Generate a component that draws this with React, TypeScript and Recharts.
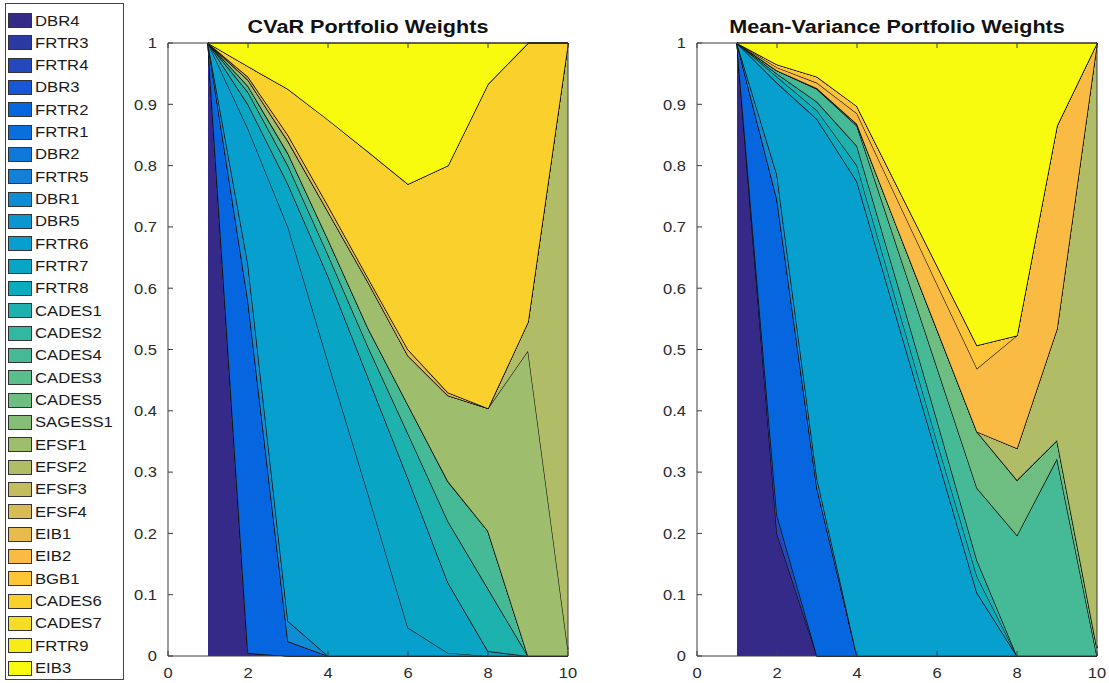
import React from "react";
import { AreaChart, Area, XAxis, YAxis } from "recharts";

// legend order = stacking order (bottom -> top)
const assets = [
  "DBR4", "FRTR3", "FRTR4", "DBR3", "FRTR2", "FRTR1", "DBR2", "FRTR5", "DBR1", "DBR5",
  "FRTR6", "FRTR7", "FRTR8", "CADES1", "CADES2", "CADES4", "CADES3", "CADES5", "SAGESS1", "EFSF1",
  "EFSF2", "EFSF3", "EFSF4", "EIB1", "EIB2", "BGB1", "CADES6", "CADES7", "FRTR9", "EIB3",
];

const portfolios = [1, 2, 3, 4, 5, 6, 7, 8, 9, 10];
const xTicks = [0, 2, 4, 6, 8, 10];
const yTicks = [0, 0.1, 0.2, 0.3, 0.4, 0.5, 0.6, 0.7, 0.8, 0.9, 1];

// CVaR weights (only the assets that get any weight)
const cvarDBR4 = [1, 0.005, 0, 0, 0, 0, 0, 0, 0, 0];
const cvarFRTR2 = [0, 0.575, 0.024, 0, 0, 0, 0, 0, 0, 0];
const cvarDBR1 = [0, 0.06, 0.033, 0, 0, 0, 0, 0, 0, 0];
const cvarFRTR6 = [0, 0.22, 0.643, 0.48, 0.265, 0.046, 0.005, 0, 0, 0];
const cvarFRTR7 = [0, 0.04, 0.07, 0.14, 0.19, 0.244, 0.115, 0.008, 0, 0];
const cvarCADES1 = [0, 0.02, 0.03, 0.035, 0.05, 0.073, 0.1, 0.102, 0, 0];
const cvarCADES4 = [0, 0.01, 0.02, 0.025, 0.03, 0.047, 0.065, 0.094, 0, 0];
const cvarEFSF1 = [0, 0.01, 0.02, 0.045, 0.075, 0.08, 0.14, 0.2, 0.498, 0.01];
const cvarEFSF2 = [0, 0, 0, 0, 0, 0, 0, 0, 0.047, 0.99];
const cvarEIB1 = [0, 0.005, 0.01, 0.01, 0.007, 0.01, 0.005, 0, 0, 0];
const cvarCADES6 = [0, 0.017, 0.075, 0.14, 0.206, 0.27, 0.37, 0.529, 0.455, 0];
const cvarEIB3 = [0, 0.038, 0.075, 0.125, 0.177, 0.23, 0.2, 0.067, 0, 0];

// Mean-variance weights
const mvDBR4 = [1, 0.2, 0, 0, 0, 0, 0, 0, 0, 0];
const mvFRTR4 = [0, 0.03, 0, 0, 0, 0, 0, 0, 0, 0];
const mvFRTR2 = [0, 0.515, 0.274, 0, 0, 0, 0, 0, 0, 0];
const mvDBR1 = [0, 0.04, 0.016, 0, 0, 0, 0, 0, 0, 0];
const mvFRTR6 = [0, 0.15, 0.586, 0.774, 0.55, 0.327, 0.103, 0, 0, 0];
const mvFRTR8 = [0, 0.01, 0.014, 0.026, 0.025, 0.023, 0.027, 0, 0, 0];
const mvCADES1 = [0, 0.005, 0.014, 0.032, 0.035, 0.035, 0.026, 0, 0, 0];
const mvCADES4 = [0, 0.005, 0.021, 0.033, 0.058, 0.086, 0.118, 0.197, 0.322, 0];
const mvCADES5 = [0, 0, 0.001, 0.003, 0.032, 0.062, 0.092, 0.09, 0.03, 0.013];
const mvEFSF2 = [0, 0, 0, 0, 0, 0, 0, 0.052, 0.182, 0.987];
const mvEIB2 = [0, 0.005, 0.009, 0.017, 0.046, 0.074, 0.103, 0.184, 0.331, 0];
const mvBGB1 = [0, 0.005, 0.01, 0.012, 0.021, 0.03, 0.038, 0, 0, 0];
const mvEIB3 = [0, 0.035, 0.055, 0.103, 0.233, 0.363, 0.493, 0.477, 0.135, 0];

const cvarSeries: Record<string, number[]> = {
  DBR4: cvarDBR4, FRTR2: cvarFRTR2, DBR1: cvarDBR1, FRTR6: cvarFRTR6, FRTR7: cvarFRTR7,
  CADES1: cvarCADES1, CADES4: cvarCADES4, EFSF1: cvarEFSF1, EFSF2: cvarEFSF2,
  EIB1: cvarEIB1, CADES6: cvarCADES6, EIB3: cvarEIB3,
};
const mvSeries: Record<string, number[]> = {
  DBR4: mvDBR4, FRTR4: mvFRTR4, FRTR2: mvFRTR2, DBR1: mvDBR1, FRTR6: mvFRTR6, FRTR8: mvFRTR8,
  CADES1: mvCADES1, CADES4: mvCADES4, CADES5: mvCADES5, EFSF2: mvEFSF2, EIB2: mvEIB2,
  BGB1: mvBGB1, EIB3: mvEIB3,
};

// old matlab parula, a few anchor rows
const parula: [number, number, number, number][] = [
  [0, 0.2081, 0.1663, 0.5292],
  [0.0952, 0.1253, 0.3242, 0.8303],
  [0.127, 0.0117, 0.3875, 0.882],
  [0.238, 0.0779, 0.504, 0.8384],
  [0.333, 0.0265, 0.6137, 0.8135],
  [0.413, 0.0384, 0.6743, 0.7436],
  [0.476, 0.1801, 0.7177, 0.6424],
  [0.571, 0.3953, 0.7459, 0.5244],
  [0.651, 0.6099, 0.7473, 0.4337],
  [0.746, 0.8185, 0.7327, 0.3498],
  [0.825, 0.9739, 0.7314, 0.2666],
  [0.857, 0.999, 0.7653, 0.2164],
  [0.937, 0.9626, 0.8705, 0.1309],
  [1, 0.9763, 0.9831, 0.0538],
];

function parulaColor(t: number) {
  let k = 0;
  while (k < parula.length - 2 && t > parula[k + 1][0]) k++;
  const a = parula[k];
  const b = parula[k + 1];
  const f = Math.min(1, Math.max(0, (t - a[0]) / (b[0] - a[0])));
  const c = [1, 2, 3].map((i) => Math.round((a[i] + (b[i] - a[i]) * f) * 255));
  return `rgb(${c[0]},${c[1]},${c[2]})`;
}

const colors = assets.map((_, i) => parulaColor(i / (assets.length - 1)));

function buildRows(series: Record<string, number[]>) {
  return portfolios.map((x, j) => {
    const row: Record<string, number> = { x };
    assets.forEach((a) => {
      row[a] = series[a] ? series[a][j] : 0;
    });
    return row;
  });
}

const axisColor = "#3c3c3c";
const labelColor = "#2a2a2a";

// the source picture is a bit stretched sideways, so labels get a small x-scale
const YTick = (props: any) => {
  const { x, y, payload } = props;
  return (
    <text
      x={x}
      y={y}
      dy="0.36em"
      textAnchor="end"
      fill={labelColor}
      fontSize={15}
      transform={`translate(${x} ${y}) scale(1.1 1) translate(${-x} ${-y})`}
    >
      {String(payload.value)}
    </text>
  );
};

const XTick = (props: any) => {
  const { x, y, payload } = props;
  return (
    <text
      x={x}
      y={y}
      dy="0.71em"
      textAnchor="middle"
      fill={labelColor}
      fontSize={15}
      transform={`translate(${x} ${y}) scale(1.1 1) translate(${-x} ${-y})`}
    >
      {String(payload.value)}
    </text>
  );
};

function WeightsChart({ rows, width, marginRight }: { rows: any[]; width: number; marginRight: number }) {
  return (
    <AreaChart width={width} height={683} data={rows} margin={{ top: 42, right: marginRight, bottom: 0, left: 0 }}>
      <XAxis
        dataKey="x"
        type="number"
        domain={[0, 10]}
        ticks={xTicks}
        height={27}
        stroke={axisColor}
        tickSize={-5}
        tickMargin={16}
        tick={<XTick />}
      />
      <XAxis
        xAxisId="top"
        orientation="top"
        dataKey="x"
        type="number"
        domain={[0, 10]}
        ticks={xTicks}
        height={1}
        stroke={axisColor}
        tickSize={-5}
        tickFormatter={() => ""}
      />
      <YAxis
        type="number"
        domain={[0, 1]}
        ticks={yTicks}
        width={50}
        stroke={axisColor}
        tickSize={-5}
        tickMargin={16}
        tick={<YTick />}
      />
      <YAxis
        yAxisId="right"
        orientation="right"
        type="number"
        domain={[0, 1]}
        ticks={yTicks}
        width={1}
        stroke={axisColor}
        tickSize={-5}
        tickFormatter={() => ""}
      />
      {assets.map((a, i) => (
        <Area
          key={a}
          type="linear"
          dataKey={a}
          stackId="w"
          stroke="#141414"
          strokeWidth={1.2}
          fill={colors[i]}
          fillOpacity={1}
          dot={false}
          activeDot={false}
          isAnimationActive={false}
        />
      ))}
    </AreaChart>
  );
}

const titleStyle: React.CSSProperties = {
  position: "absolute",
  top: 17,
  fontSize: 18,
  fontWeight: "bold",
  color: "#111",
  textAlign: "center",
  width: 420,
  transform: "scaleX(1.2)",
  transformOrigin: "center",
};

export default function App() {
  const cvarRows = buildRows(cvarSeries);
  const mvRows = buildRows(mvSeries);

  return (
    <div
      style={{
        position: "absolute",
        left: 0,
        top: 0,
        width: 1109,
        height: 683,
        background: "#fff",
        overflow: "hidden",
        fontFamily: '"Liberation Sans", Arial, sans-serif',
      }}
    >
      {/* legend */}
      <div
        style={{
          position: "absolute",
          left: 5,
          top: 3,
          width: 119,
          height: 677,
          border: "1px solid #444",
          boxSizing: "border-box",
        }}
      />
      {assets.map((a, i) => {
        const cy = 20.5 + i * 22.33;
        return (
          <React.Fragment key={a}>
            <div
              style={{
                position: "absolute",
                left: 8,
                top: cy - 7.5,
                width: 24,
                height: 15,
                background: colors[i],
                border: "1px solid #333",
                boxSizing: "border-box",
              }}
            />
            <div
              style={{
                position: "absolute",
                left: 35,
                top: cy - 9,
                height: 18,
                lineHeight: "18px",
                fontSize: 14.5,
                color: "#1a1a1a",
                transform: "scaleX(1.15)",
                transformOrigin: "left center",
                whiteSpace: "nowrap",
              }}
            >
              {a}
            </div>
          </React.Fragment>
        );
      })}

      <div style={{ ...titleStyle, left: 158 }}>CVaR Portfolio Weights</div>
      <div style={{ position: "absolute", left: 118, top: 0 }}>
        <WeightsChart rows={cvarRows} width={470} marginRight={19} />
      </div>

      <div style={{ ...titleStyle, left: 687 }}>Mean-Variance Portfolio Weights</div>
      <div style={{ position: "absolute", left: 647, top: 0 }}>
        <WeightsChart rows={mvRows} width={460} marginRight={9} />
      </div>
    </div>
  );
}
